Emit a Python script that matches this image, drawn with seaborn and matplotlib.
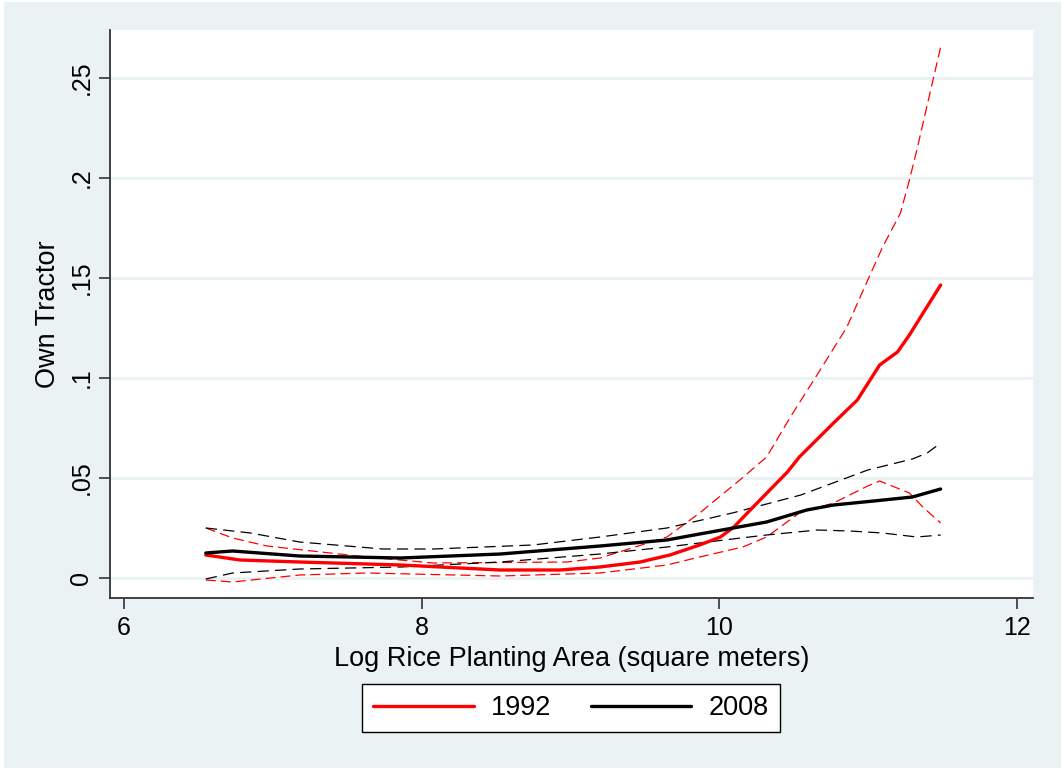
import numpy as np
import pandas as pd
import matplotlib
matplotlib.use("Agg")
import matplotlib.pyplot as plt
from matplotlib.patches import Rectangle
from matplotlib.lines import Line2D
import seaborn as sns

# ---- data ----
x_1992 = [6.55, 6.78, 7.18, 7.86, 8.53, 8.93, 9.20, 9.47, 9.67, 9.87, 10.01, 10.10,
          10.21, 10.46, 10.54, 10.77, 10.93, 11.08, 11.20, 11.28, 11.49]
y_1992 = [0.0115, 0.009, 0.008, 0.0065, 0.004, 0.004, 0.0055, 0.008, 0.0115, 0.0165, 0.0205, 0.0255,
          0.034, 0.053, 0.0605, 0.0775, 0.089, 0.1065, 0.113, 0.1215, 0.1465]

x_1992_hi = [6.55, 6.73, 6.96, 7.63, 8.08, 8.98, 9.20, 9.65, 9.87, 10.14, 10.32,
             10.48, 10.68, 10.86, 11.00, 11.10, 11.22, 11.28, 11.33, 11.49]
y_1992_hi = [0.025, 0.020, 0.016, 0.0105, 0.0075, 0.008, 0.010, 0.0205, 0.0325, 0.049, 0.0605,
             0.0805, 0.104, 0.1255, 0.149, 0.1655, 0.1825, 0.199, 0.214, 0.2655]

x_1992_lo = [6.55, 6.73, 7.18, 7.63, 8.53, 9.20, 9.65, 9.87, 10.16, 10.32, 10.54,
             10.77, 11.00, 11.08, 11.28, 11.37, 11.49]
y_1992_lo = [-0.001, -0.002, 0.0015, 0.0025, 0.001, 0.0025, 0.0065, 0.0105, 0.0155, 0.0205, 0.0325,
             0.0375, 0.046, 0.0485, 0.0425, 0.0355, 0.0275]

x_2008 = [6.55, 6.73, 7.18, 7.86, 8.53, 9.20, 9.65, 9.87, 10.32, 10.59, 10.77,
          11.04, 11.30, 11.49]
y_2008 = [0.0125, 0.0135, 0.011, 0.010, 0.012, 0.016, 0.019, 0.022, 0.028, 0.034, 0.0365,
          0.0385, 0.0405, 0.0445]

x_2008_hi = [6.55, 6.85, 7.18, 7.74, 8.08, 8.75, 9.20, 9.65, 10.09, 10.55, 11.00,
             11.30, 11.40, 11.49]
y_2008_hi = [0.025, 0.0225, 0.018, 0.0145, 0.0145, 0.0165, 0.0205, 0.025, 0.0325, 0.0415, 0.054,
             0.0595, 0.0625, 0.0675]

x_2008_lo = [6.55, 6.73, 7.18, 7.86, 8.53, 9.20, 9.65, 10.09, 10.32, 10.66, 10.88,
             11.10, 11.33, 11.49]
y_2008_lo = [-0.0005, 0.0025, 0.0045, 0.0055, 0.008, 0.012, 0.0155, 0.0195, 0.0215, 0.024, 0.0235,
             0.0225, 0.0205, 0.0215]

x_ticks = [6, 8, 10, 12]
y_ticks = [0, 0.05, 0.10, 0.15, 0.20, 0.25]
y_tick_labels = ["0", ".05", ".1", ".15", ".2", ".25"]
legend_labels = ["1992", "2008"]

# ---- style ----
sns.set_theme(style="white")
plt.rcParams["font.family"] = ["Liberation Sans", "DejaVu Sans"]

BG = "#EAF2F3"
RED = "#FF0000"
BLACK = "#000000"
TICK_FS = 18
LABEL_FS = 19.5

fig = plt.figure(figsize=(10.63, 7.69), dpi=100)
fig.patch.set_facecolor("white")
fig.patches.append(Rectangle((4 / 1063, 1 / 769), (1061 - 4) / 1063, (767 - 1) / 769,
                             transform=fig.transFigure, facecolor=BG, edgecolor="none", zorder=-10))

ax = fig.add_axes([110 / 1063, (769 - 598) / 769, (1033 - 110) / 1063, (598 - 30) / 769])
ax.set_zorder(1)
ax.set_facecolor("white")

for ys in y_ticks:
    ax.axhline(ys, color=BG, lw=2.2, zorder=1)

def draw(xs, ys, color, lw, dashes=None):
    sns.lineplot(x=xs, y=ys, ax=ax, color=color, linewidth=lw, sort=False,
                 estimator=None, zorder=3)
    line = ax.lines[-1]
    if dashes is not None:
        line.set_dashes(dashes)

draw(x_1992_hi, y_1992_hi, RED, 0.9, (8, 4))
draw(x_1992_lo, y_1992_lo, RED, 0.9, (8, 4))
draw(x_2008_hi, y_2008_hi, BLACK, 0.9, (9, 5))
draw(x_2008_lo, y_2008_lo, BLACK, 0.9, (9, 5))
draw(x_1992, y_1992, RED, 2.4)
draw(x_2008, y_2008, BLACK, 2.4)

ax.set_xlim(6 + (110 - 124) / 148.75, 6 + (1033 - 124) / 148.75)
ax.set_ylim((578 - 598) / 2000, (578 - 30) / 2000)

ax.set_xticks(x_ticks)
ax.set_xticklabels([str(v) for v in x_ticks], fontsize=TICK_FS)
ax.set_yticks(y_ticks)
ax.set_yticklabels(y_tick_labels, fontsize=TICK_FS, rotation=90, va="center")

for s in ["top", "right"]:
    ax.spines[s].set_visible(False)
for s in ["left", "bottom"]:
    ax.spines[s].set_color("#333333")
    ax.spines[s].set_linewidth(1.3)

ax.tick_params(axis="both", which="both", direction="out", length=8, width=1.2,
               color="#333333", labelcolor="black", left=True, bottom=True)
ax.tick_params(axis="x", pad=5)
ax.tick_params(axis="y", pad=4)

ax.set_xlabel("Log Rice Planting Area (square meters)", fontsize=LABEL_FS, labelpad=4, color="black")
ax.set_ylabel("Own Tractor", fontsize=LABEL_FS, labelpad=6, color="black")
ax.grid(False)

handles = [Line2D([0], [0], color=RED, lw=2.4), Line2D([0], [0], color=BLACK, lw=2.4)]
leg = fig.legend(handles, legend_labels, loc="center", ncol=2,
                 bbox_to_anchor=(571 / 1063, (769 - 708) / 769),
                 fontsize=LABEL_FS, frameon=True, fancybox=False, framealpha=1.0,
                 handlelength=3.7, columnspacing=1.45, handletextpad=0.65,
                 borderpad=0.4, borderaxespad=0)
for t in leg.get_texts():
    t.set_color("black")
leg.get_frame().set_edgecolor("black")
leg.get_frame().set_linewidth(1.0)
leg.get_frame().set_facecolor("white")

fig.savefig("out.png", dpi=100, facecolor=fig.get_facecolor())
